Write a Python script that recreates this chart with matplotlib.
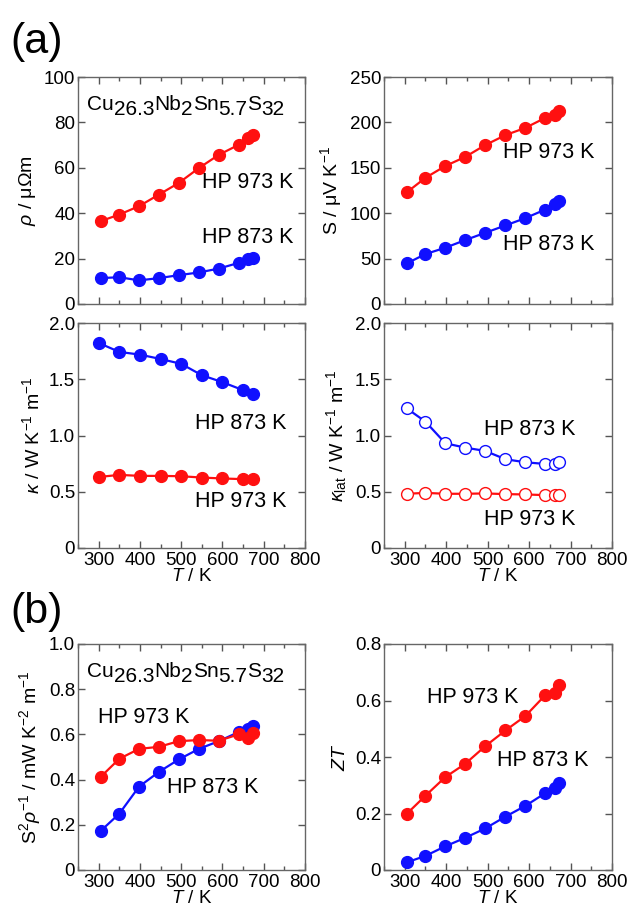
import numpy as np
import matplotlib.pyplot as plt
import matplotlib.transforms as mtransforms

plt.rcParams['font.family'] = 'Liberation Sans'
plt.rcParams['mathtext.fontset'] = 'custom'
plt.rcParams['mathtext.rm'] = 'Liberation Sans'
plt.rcParams['mathtext.it'] = 'Liberation Sans:italic'
plt.rcParams['mathtext.bf'] = 'Liberation Sans:bold'

# temperatures (K)
T = [305, 350, 398, 446, 494, 543, 591, 639, 662, 673]
T_k = [300, 350, 400, 450, 500, 550, 600, 650, 675]

# resistivity (micro ohm m)
rho_873 = [11.4, 11.8, 10.4, 11.4, 12.7, 13.9, 15.6, 18.1, 19.7, 20.4]
rho_973 = [36.5, 39.4, 43.1, 48.2, 53.3, 59.9, 65.7, 70.1, 73.3, 74.5]

# Seebeck (uV/K)
S_873 = [44.7, 55, 62, 70.4, 78.4, 86.5, 94.6, 104, 110, 113.6]
S_973 = [123, 139, 152, 162, 175, 186, 194, 205, 208, 213]

# thermal conductivity
kap_873 = [1.823, 1.743, 1.719, 1.68, 1.637, 1.536, 1.474, 1.403, 1.365]
kap_973 = [0.631, 0.65, 0.641, 0.641, 0.638, 0.626, 0.618, 0.612, 0.615]

# lattice thermal conductivity
klat_873 = [1.241, 1.123, 0.931, 0.892, 0.863, 0.789, 0.762, 0.747, 0.75, 0.762]
klat_973 = [0.482, 0.49, 0.482, 0.482, 0.485, 0.479, 0.476, 0.47, 0.467, 0.467]

# power factor (mW K^-2 m^-1)
pf_873 = [0.173, 0.249, 0.369, 0.434, 0.489, 0.536, 0.57, 0.61, 0.622, 0.635]
pf_973 = [0.412, 0.492, 0.536, 0.545, 0.570, 0.575, 0.572, 0.600, 0.585, 0.604]

# ZT
zt_873 = [0.027, 0.050, 0.084, 0.114, 0.147, 0.189, 0.227, 0.272, 0.291, 0.308]
zt_973 = [0.199, 0.263, 0.329, 0.376, 0.438, 0.494, 0.545, 0.619, 0.628, 0.655]

# composition label: (text, is subscript)
formula_parts = [('Cu', False), ('26.3', True), ('Nb', False), ('2', True),
                 ('Sn', False), ('5.7', True), ('S', False), ('32', True)]

W, H = 630, 911
fig = plt.figure(figsize=(W/100, H/100), dpi=100)
renderer = fig.canvas.get_renderer()

def add_ax(l, r, t, b):
    return fig.add_axes([l/W, 1 - b/H, (r-l)/W, (b-t)/H])

ax_rho = add_ax(78, 305, 77, 304)
ax_S = add_ax(384, 612, 77, 304)
ax_k = add_ax(78, 305, 323, 548)
ax_kl = add_ax(384, 612, 323, 548)
ax_pf = add_ax(78, 305, 644, 870)
ax_zt = add_ax(384, 612, 644, 870)

red = '#ff1010'
blue = '#1010ff'
ms = 8.5
lw = 1.6
tfs = 13.5

def style(ax, ymax, ystep, fmt, xlabels=True):
    ax.set_xlim(250, 800)
    ax.set_ylim(0, ymax)
    ax.set_xticks(np.arange(300, 801, 100))
    ax.set_xticks(np.arange(250, 801, 50), minor=True)
    ax.set_yticks(np.arange(0, ymax + 1e-9, ystep))
    ax.set_yticklabels(['0'] + [fmt % v for v in np.arange(ystep, ymax + 1e-9, ystep)])
    ax.tick_params(which='both', direction='in', top=True, right=True,
                   colors='#555555', labelcolor='black', labelsize=tfs)
    ax.tick_params(which='major', length=5, width=1)
    ax.tick_params(which='minor', length=3, width=1)
    ax.tick_params(axis='y', pad=2)
    ax.tick_params(axis='x', pad=3)
    for s in ax.spines.values():
        s.set_color('#666666')
        s.set_linewidth(1)
    if xlabels:
        ax.set_xlabel('$T$ / K', fontsize=13.5, labelpad=-1)
    else:
        ax.set_xticklabels([])

def filled(ax, x, y, c):
    ax.plot(x, y, '-o', color=c, ms=ms, lw=lw)

def hollow(ax, x, y, c):
    ax.plot(x, y, '-o', color=c, ms=ms, lw=lw, mfc='white', mew=1.0)

def put_formula(ax, x, y, fs=15, drop=5):
    # subscripts keep full size, only lowered
    dx = 0
    for txt, sub in formula_parts:
        tr = mtransforms.offset_copy(ax.transData, fig=fig, x=dx, y=-drop if sub else 0,
                                     units='dots')
        t = ax.text(x, y, txt, fontsize=fs, ha='left', va='baseline', transform=tr)
        dx += t.get_window_extent(renderer).width

lbl = dict(fontsize=15.5, ha='right', va='center')

# rho
filled(ax_rho, T, rho_973, red)
filled(ax_rho, T, rho_873, blue)
style(ax_rho, 100, 20, '%d', xlabels=False)
ax_rho.set_ylabel(r'$\rho$ / μΩm', fontsize=14)
put_formula(ax_rho, 272, 85.5)
ax_rho.text(773, 53.7, 'HP 973 K', **lbl)
ax_rho.text(773, 29.5, 'HP 873 K', **lbl)

# S
filled(ax_S, T, S_973, red)
filled(ax_S, T, S_873, blue)
style(ax_S, 250, 50, '%d', xlabels=False)
ax_S.set_ylabel(r'S / μV K$^{-1}$', fontsize=14)
ax_S.text(757, 167, 'HP 973 K', **lbl)
ax_S.text(757, 65, 'HP 873 K', **lbl)

# kappa
filled(ax_k, T_k, kap_873, blue)
filled(ax_k, T_k, kap_973, red)
style(ax_k, 2.0, 0.5, '%.1f')
ax_k.set_ylabel(r'$\kappa$ / W K$^{-1}$ m$^{-1}$', fontsize=14)
ax_k.text(756, 1.11, 'HP 873 K', **lbl)
ax_k.text(756, 0.41, 'HP 973 K', **lbl)

# kappa lat
hollow(ax_kl, T, klat_873, blue)
hollow(ax_kl, T, klat_973, red)
style(ax_kl, 2.0, 0.5, '%.1f')
ax_kl.set_ylabel(r'$\kappa_{\rm lat}$ / W K$^{-1}$ m$^{-1}$', fontsize=14)
ax_kl.text(711, 1.05, 'HP 873 K', **lbl)
ax_kl.text(711, 0.25, 'HP 973 K', **lbl)

# power factor
filled(ax_pf, T, pf_873, blue)
filled(ax_pf, T, pf_973, red)
style(ax_pf, 1.0, 0.2, '%.1f')
ax_pf.set_ylabel(r'S$^{2}\rho^{-1}$ / mW K$^{-2}$ m$^{-1}$', fontsize=14)
put_formula(ax_pf, 272, 0.855)
ax_pf.text(521, 0.673, 'HP 973 K', **lbl)
ax_pf.text(686, 0.363, 'HP 873 K', **lbl)

# ZT
filled(ax_zt, T, zt_973, red)
filled(ax_zt, T, zt_873, blue)
style(ax_zt, 0.8, 0.2, '%.1f')
ax_zt.set_ylabel('$ZT$', fontsize=14)
ax_zt.text(573, 0.609, 'HP 973 K', **lbl)
ax_zt.text(742, 0.389, 'HP 873 K', **lbl)

fig.text(10/W, 1 - 42/H, '(a)', fontsize=31, va='center', ha='left')
fig.text(10/W, 1 - 612/H, '(b)', fontsize=31, va='center', ha='left')

fig.savefig('out.png', dpi=100)
